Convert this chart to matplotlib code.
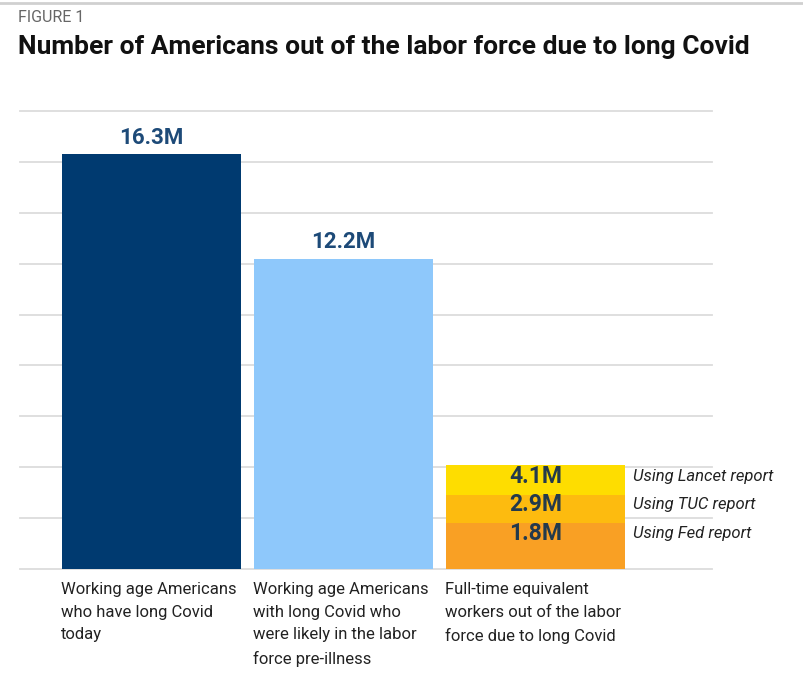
import matplotlib.pyplot as plt
from matplotlib.lines import Line2D

plt.rcParams['font.family'] = ['Roboto', 'DejaVu Sans']

# Data
categories = ['Working age Americans\nwho have long Covid\ntoday',
              'Working age Americans\nwith long Covid who\nwere likely in the labor\nforce pre-illness',
              'Full-time equivalent\nworkers out of the labor\nforce due to long Covid']
main_values = [16.3, 12.2]
fte_labels = ['Using Lancet report', 'Using TUC report', 'Using Fed report']
fte_values = [4.1, 2.9, 1.8]

bar_colors = ['#003a70', '#8ec8fb']
fte_colors = ['#fedd00', '#fdbb0f', '#f9a024']

W, H = 804, 684
fig = plt.figure(figsize=(W / 100, H / 100), dpi=100)

# axes in pixel terms: grid from x=20 to 712, baseline y=569, top grid y=111
ax = fig.add_axes([20 / W, (H - 569) / H, 692 / W, 458 / H])
ax.set_xlim(-0.685, 2.919)
ax.set_ylim(0, 18)
ax.set_yticks(range(0, 19, 2))
ax.set_xticks([])
ax.tick_params(left=False, labelleft=False)
ax.grid(axis='y', color='#dcdcdc', linewidth=1.3)
for g in ax.get_ygridlines():
    g.set_clip_on(False)
ax.set_axisbelow(True)
for s in ax.spines.values():
    s.set_visible(False)

bw = 179 / 192
for i, v in enumerate(main_values):
    ax.bar(i, v, width=bw, color=bar_colors[i], zorder=2)
    ax.text(i, v + 0.2, f'{v}M', ha='center', va='bottom', fontsize=16,
            fontweight='bold', color='#1d4a78')

# overlapping estimates for the third bar (largest drawn first)
for lab, v, c in zip(fte_labels, fte_values, fte_colors):
    ax.bar(2, v, width=bw, color=c, zorder=2)

label_y = [3.62, 2.55, 1.4]
for lab, v, y in zip(fte_labels, fte_values, label_y):
    ax.text(2, y, f'{v}M', ha='center', va='center', fontsize=16.5,
            fontweight='bold', color='#233a4c')
    ax.text(2 + bw / 2 + 0.04, y, lab, ha='left', va='center', fontsize=12,
            style='italic', color='#222222')

for i, cat in enumerate(categories):
    ax.text(i - bw / 2 - 0.005, -0.5, cat, ha='left', va='top', fontsize=12,
            color='#222222', linespacing=1.65)

fig.text(18 / W, 1 - 17 / H, 'FIGURE 1', ha='left', va='center', fontsize=11.5,
         color='#666666')
fig.text(18 / W, 1 - 47 / H, 'Number of Americans out of the labor force due to long Covid',
         ha='left', va='center', fontsize=19, fontweight='bold', color='#111111')
fig.add_artist(Line2D([0, 1], [1 - 3 / H, 1 - 3 / H], transform=fig.transFigure,
                      color='#d0d0d0', linewidth=2))

fig.savefig('out.png', dpi=100)
